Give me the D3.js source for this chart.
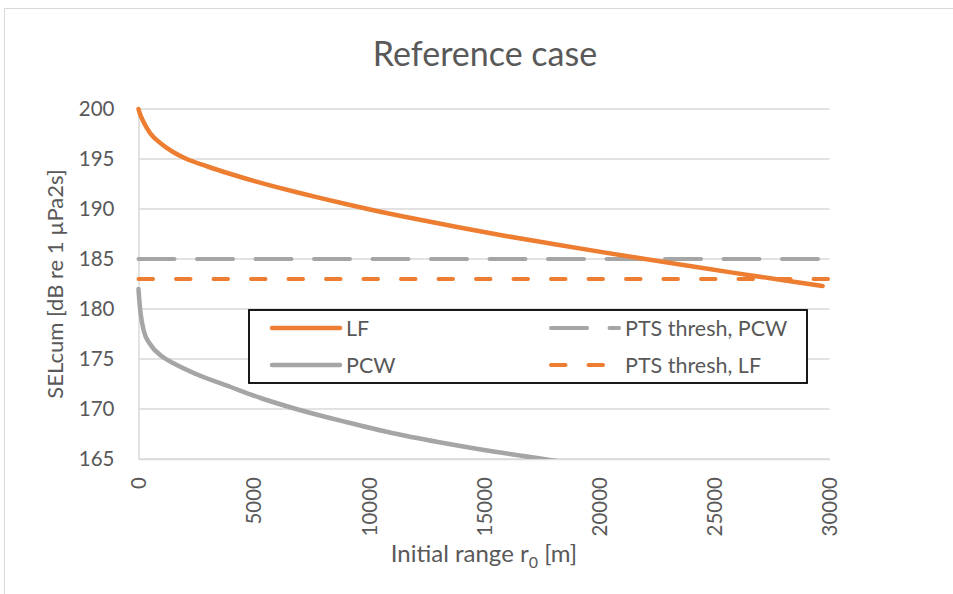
<!DOCTYPE html>
<html>
<head>
<meta charset="utf-8">
<script src="https://cdn.jsdelivr.net/npm/d3@7"></script>
<style>
  body { margin: 0; background: #fff; }
  svg { display: block; font-family: Lato, "Open Sans", sans-serif; }
  .grid line { stroke: #d9d9d9; stroke-width: 1.3; }
  .lbl { fill: #595959; }
</style>
</head>
<body>
<svg id="chart" width="953" height="594"></svg>
<script>
// values
const rangeLF = [0, 50, 200, 500, 1000, 1500, 2000, 3000, 4000, 5000, 6000, 7000, 8000, 9000, 10000, 12000, 14000, 16000, 18000, 20000, 22000, 24000, 26000, 28000, 29700];
const selLF = [200, 199.6, 198.8, 197.6, 196.5, 195.7, 195.1, 194.25, 193.5, 192.82, 192.19, 191.6, 191.04, 190.5, 189.98, 189.02, 188.12, 187.28, 186.5, 185.74, 185.0, 184.27, 183.56, 182.87, 182.3];
const rangePCW = [0, 30, 90, 230, 500, 1000, 1500, 2500, 4000, 5300, 7000, 9000, 11000, 13000, 15000, 17000, 18000, 20000];
const selPCW = [182.0, 181.0, 179.6, 177.8, 176.5, 175.3, 174.6, 173.5, 172.2, 171.1, 169.9, 168.7, 167.6, 166.7, 165.9, 165.2, 164.85, 164.2];
const threshRange = [0, 30000];
const threshPCW = [185, 185];
const threshLF = [183, 183];
const xTicks = [0, 5000, 10000, 15000, 20000, 25000, 30000];
const yTicks = [165, 170, 175, 180, 185, 190, 195, 200];

const ORANGE = '#ed7d31', GRAY = '#a5a5a5';

const series = [
  {name: 'PTS thresh, PCW', r: threshRange, v: threshPCW, color: GRAY, dash: '36,22.5', w: 4},
  {name: 'PTS thresh, LF', r: threshRange, v: threshLF, color: ORANGE, dash: '14.5,23', w: 4},
  {name: 'PCW', r: rangePCW, v: selPCW, color: GRAY, dash: null, w: 4.5},
  {name: 'LF', r: rangeLF, v: selLF, color: ORANGE, dash: null, w: 4.5}
];

const svg = d3.select('#chart');
const x = d3.scaleLinear().domain([0, 30000]).range([138.5, 829.5]);
const y = d3.scaleLinear().domain([165, 200]).range([459, 109]);

// chart frame
svg.append('rect')
  .attr('x', 4.5).attr('y', 8.5)
  .attr('width', 1000).attr('height', 700)
  .attr('fill', 'none').attr('stroke', '#d9d9d9');

svg.append('text')
  .attr('class', 'lbl')
  .attr('x', 485).attr('y', 66)
  .attr('text-anchor', 'middle')
  .style('font-size', '34px')
  .text('Reference case');

// gridlines
svg.append('g').attr('class', 'grid')
  .selectAll('line').data(yTicks).enter().append('line')
  .attr('x1', x(0)).attr('x2', x(30000))
  .attr('y1', d => y(d)).attr('y2', d => y(d));

// axes
const yAxis = d3.axisLeft(y).tickValues(yTicks).tickSize(0).tickPadding(24);
const gy = svg.append('g').attr('transform', `translate(${x(0)},0)`).call(yAxis);
gy.select('.domain').attr('stroke', '#d9d9d9').attr('stroke-width', 1.5);
gy.selectAll('text').attr('class', 'lbl').style('font-size', '20.5px').style('font-family', 'Lato');

const xAxis = d3.axisBottom(x).tickValues(xTicks).tickSize(0).tickFormat(d3.format('d'));
const gx = svg.append('g').attr('transform', `translate(0,${y(165)})`).call(xAxis);
gx.select('.domain').attr('stroke', '#d9d9d9').attr('stroke-width', 1.5);
gx.selectAll('text')
  .attr('class', 'lbl')
  .style('font-size', '20.5px').style('font-family', 'Lato')
  .attr('text-anchor', 'end')
  .attr('x', 0).attr('y', 0).attr('dy', '0.35em')
  .attr('transform', 'translate(0,18) rotate(-90)');

// axis titles
svg.append('text')
  .attr('class', 'lbl')
  .attr('transform', `translate(63,${(y(165) + y(200)) / 2}) rotate(-90)`)
  .attr('text-anchor', 'middle')
  .style('font-size', '22px')
  .text('SELcum [dB re 1 µPa2s]');

const xt = svg.append('text')
  .attr('class', 'lbl')
  .attr('x', 484).attr('y', 562)
  .attr('text-anchor', 'middle')
  .style('font-size', '24px');
xt.append('tspan').text('Initial range r');
xt.append('tspan').attr('dy', 6).style('font-size', '16px').text('0');
xt.append('tspan').attr('dy', -6).text(' [m]');

// series
svg.append('clipPath').attr('id', 'plotclip')
  .append('rect')
  .attr('x', x(0) - 5).attr('y', y(200) - 5)
  .attr('width', x(30000) - x(0) + 10).attr('height', y(165) - y(200) + 5);

const line = d3.line().curve(d3.curveMonotoneX)
  .x(d => x(d[0])).y(d => y(d[1]));

svg.append('g').attr('clip-path', 'url(#plotclip)')
  .selectAll('path').data(series).enter().append('path')
  .attr('d', s => line(s.r.map((r, i) => [r, s.v[i]])))
  .attr('fill', 'none')
  .attr('stroke', s => s.color)
  .attr('stroke-width', s => s.w)
  .attr('stroke-linecap', 'round')
  .attr('stroke-dasharray', s => s.dash);

// legend
const legend = svg.append('g');
legend.append('rect')
  .attr('x', 249).attr('y', 310)
  .attr('width', 558).attr('height', 73)
  .attr('fill', '#fff').attr('stroke', '#000').attr('stroke-width', 1.8);

const legendItems = [
  {s: series[3], lx: 270, ly: 328},
  {s: series[0], lx: 549, ly: 328},
  {s: series[2], lx: 270, ly: 365},
  {s: series[1], lx: 549, ly: 365}
];
const li = legend.selectAll('g.item').data(legendItems).enter().append('g').attr('class', 'item');
li.append('line')
  .attr('x1', d => d.lx + 2).attr('x2', d => d.lx + 70)
  .attr('y1', d => d.ly).attr('y2', d => d.ly)
  .attr('stroke', d => d.s.color)
  .attr('stroke-width', d => d.s.w)
  .attr('stroke-linecap', 'round')
  .attr('stroke-dasharray', d => d.s.dash);
li.append('text')
  .attr('class', 'lbl')
  .attr('x', d => d.lx + 76).attr('y', d => d.ly)
  .attr('dy', '0.35em')
  .style('font-size', '21.5px')
  .text(d => d.s.name);
</script>
</body>
</html>
